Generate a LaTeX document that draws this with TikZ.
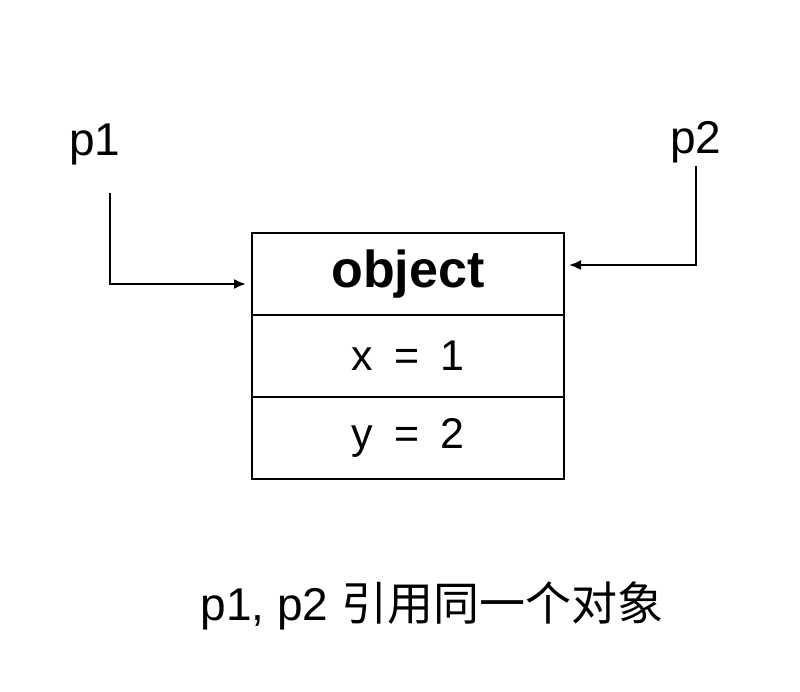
\documentclass[tikz,border=0pt]{standalone}
\usepackage{fontspec}
\setmainfont{Liberation Sans}
\newfontfamily\cjk{Noto Sans CJK SC}
\usetikzlibrary{positioning,arrows.meta}
\begin{document}
\begin{tikzpicture}[x=0.5pt, y=-0.5pt,
		lbl/.style={inner sep=0pt, font=\fontsize{23pt}{27pt}\selectfont},
		field/.style={draw, line width=0.6pt, minimum width=156pt, minimum height=41pt, inner sep=0pt, outer sep=0pt, font=\fontsize{21.5pt}{25pt}\selectfont},
		ptr/.style={line width=1pt, -{Latex[length=6pt, width=5pt]}}]
			\useasboundingbox (0, 0) rectangle (800, 692);

			\node[lbl, anchor=base] (p1) at (95, 155) {p1};
			\node[lbl, anchor=base] (p2) at (696, 153) {p2};

			\node[field, font=\fontsize{26pt}{30pt}\selectfont\bfseries] (obj) at (408, 274) {object};
			\node[field, below=0pt of obj] (xval) {x\,\,\,=\,\,\,1};
			\node[field, below=0pt of xval] (yval) {y\,\,\,=\,\,\,2};

			\node[lbl, anchor=base] (note) at (432, 620) {p1, p2 {\cjk 引用同一个对象}};

			\draw[ptr] ([xshift=7.5pt, yshift=-14pt]p1.south) |- ([xshift=-3pt, yshift=-5pt]obj.west);
			\draw[ptr] ([yshift=-1.5pt]p2.south) |- ([xshift=2.5pt, yshift=4.5pt]obj.east);
		\end{tikzpicture}
\end{document}
